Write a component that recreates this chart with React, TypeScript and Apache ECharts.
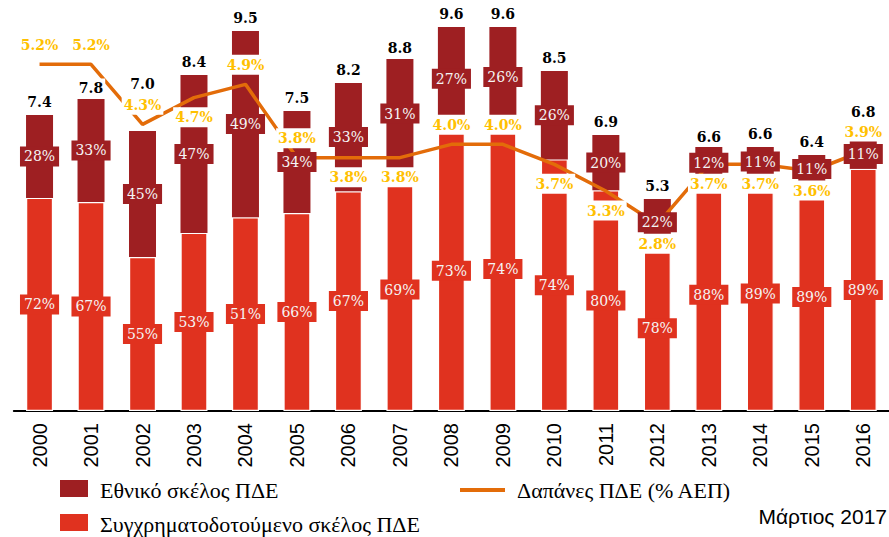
import React, { useEffect, useRef } from "react";
import * as echarts from "echarts";

const years = ["2000","2001","2002","2003","2004","2005","2006","2007","2008","2009","2010","2011","2012","2013","2014","2015","2016"];
const totals = [7.4, 7.8, 7.0, 8.4, 9.5, 7.5, 8.2, 8.8, 9.6, 9.6, 8.5, 6.9, 5.3, 6.6, 6.6, 6.4, 6.8];
const nationalShare = [28, 33, 45, 47, 49, 34, 33, 31, 27, 26, 26, 20, 22, 12, 11, 11, 11];
const cofinancedShare = [72, 67, 55, 53, 51, 66, 67, 69, 73, 74, 74, 80, 78, 88, 89, 89, 89];
const pdeGdp = [5.2, 5.2, 4.3, 4.7, 4.9, 3.8, 3.8, 3.8, 4.0, 4.0, 3.7, 3.3, 2.8, 3.7, 3.7, 3.6, 3.9];

// label placement (style only)
const lineLabelSide = ["top","top","top","bottom","top","top","bottom","bottom","top","top","bottom","bottom","bottom","bottom","bottom","bottom","top"];
const totalLabelShift = [0, 2, -34, 0, 0, 0, 0, 2, 0, 0, 0, 0, 0, 3, 0, 0, -14];

const NAT = "Εθνικό σκέλος ΠΔΕ";
const COF = "Συγχρηματοδοτούμενο σκέλος ΠΔΕ";
const LINE = "Δαπάνες ΠΔΕ (% ΑΕΠ)";
const DATE_NOTE = "Μάρτιος 2017";

const DARK = "#9E1F22";
const RED = "#E0321F";
const ORANGE = "#E36C09";
const GOLD = "#FFC000";

export default function App() {
  const ref = useRef<HTMLDivElement>(null);
  useEffect(() => {
    if (!ref.current) return;
    const chart = echarts.init(ref.current, undefined, { renderer: "svg" });
    const cof = totals.map((t, i) => +(t * cofinancedShare[i] / 100).toFixed(3));
    const nat = totals.map((t, i) => +(t - cof[i]).toFixed(3));
    const pctLabel = (bg: string, shares: number[]) => ({
      show: true,
      position: "inside",
      formatter: (p: any) => shares[p.dataIndex] + "%",
      color: "#F5F5F5",
      fontFamily: "DejaVu Serif",
      fontSize: 14,
      backgroundColor: bg,
      padding: [3, 4, 3, 4],
    });
    const legendTextStyle = (text: string) => ({
      text,
      font: "22px 'Liberation Serif', 'Times New Roman', serif",
      fill: "#000",
      verticalAlign: "middle",
      align: "left",
    });
    chart.setOption({
      animation: false,
      grid: { left: 13.8, right: -15.6, top: 11, bottom: 126, containLabel: false },
      graphic: [
        { type: "rect", shape: { x: 60, y: 480, width: 28, height: 17 }, style: { fill: DARK } },
        { type: "text", x: 100, y: 490, style: legendTextStyle(NAT) },
        { type: "rect", shape: { x: 60, y: 514, width: 28, height: 17 }, style: { fill: RED } },
        { type: "text", x: 100, y: 524, style: legendTextStyle(COF) },
        { type: "rect", shape: { x: 460, y: 488, width: 45, height: 4 }, style: { fill: ORANGE } },
        { type: "text", x: 517, y: 490, style: legendTextStyle(LINE) },
        {
          type: "text",
          x: 887,
          y: 516,
          style: {
            text: DATE_NOTE,
            font: "21px 'Liberation Sans', Arial, sans-serif",
            fill: "#000",
            align: "right",
            verticalAlign: "middle",
          },
        },
      ],
      xAxis: {
        type: "category",
        data: years,
        axisTick: { show: false },
        axisLine: { lineStyle: { color: "#000", width: 2 } },
        axisLabel: {
          rotate: 90,
          margin: 12,
          color: "#000",
          fontFamily: "Liberation Sans",
          fontSize: 20,
        },
      },
      yAxis: [
        { type: "value", min: 0, max: 10, show: false, splitLine: { show: false } },
        { type: "value", min: 0, max: 6, show: false, splitLine: { show: false } },
      ],
      series: [
        {
          name: COF,
          type: "bar",
          stack: "main",
          data: cof,
          barWidth: 27,
          barGap: "-100%",
          z: 2,
          itemStyle: { color: RED, borderColor: "#fff", borderWidth: 1.2 },
        },
        {
          name: NAT,
          type: "bar",
          stack: "main",
          data: nat,
          barWidth: 27,
          barGap: "-100%",
          z: 2,
          itemStyle: { color: DARK },
        },
        {
          name: LINE,
          type: "line",
          yAxisIndex: 1,
          data: pdeGdp,
          symbol: "none",
          z: 3,
          itemStyle: { color: ORANGE },
          lineStyle: { color: ORANGE, width: 3.5 },
        },
        {
          name: "lblCof",
          type: "bar",
          stack: "lbl",
          data: cof,
          barWidth: 27,
          barGap: "-100%",
          z: 4,
          itemStyle: { color: "rgba(0,0,0,0)" },
          label: pctLabel(RED, cofinancedShare),
        },
        {
          name: "lblNat",
          type: "bar",
          stack: "lbl",
          data: nat,
          barWidth: 27,
          barGap: "-100%",
          z: 4,
          itemStyle: { color: "rgba(0,0,0,0)" },
          label: pctLabel(DARK, nationalShare),
        },
        {
          name: "totals",
          type: "scatter",
          data: totals.map((v, i) => ({ value: v, label: { offset: [0, totalLabelShift[i]] } })),
          symbolSize: 1,
          z: 5,
          itemStyle: { color: "rgba(0,0,0,0)", opacity: 1 },
          label: {
            show: true,
            position: "top",
            distance: 4,
            formatter: (p: any) => totals[p.dataIndex].toFixed(1),
            color: "#000",
            fontFamily: "DejaVu Serif",
            fontWeight: "bold",
            fontSize: 14,
            backgroundColor: "#fff",
            padding: [2, 2, 2, 2],
          },
        },
        {
          name: "lineLabels",
          type: "scatter",
          yAxisIndex: 1,
          data: pdeGdp.map((v, i) => ({ value: v, label: { position: lineLabelSide[i] } })),
          symbolSize: 1,
          z: 6,
          itemStyle: { color: "rgba(0,0,0,0)", opacity: 1 },
          label: {
            show: true,
            distance: 9,
            formatter: (p: any) => pdeGdp[p.dataIndex].toFixed(1) + "%",
            color: GOLD,
            fontFamily: "DejaVu Serif",
            fontWeight: "bold",
            fontSize: 14,
            backgroundColor: "#fff",
            padding: [3, 2, 3, 2],
          },
        },
      ],
    });
    return () => chart.dispose();
  }, []);
  return (
    <div
      ref={ref}
      style={{ position: "fixed", left: 0, top: 0, width: 889, height: 537, background: "#fff" }}
    />
  );
}
